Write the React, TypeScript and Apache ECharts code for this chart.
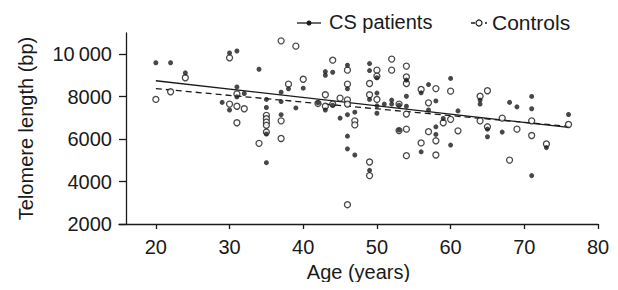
import React, { useEffect, useRef } from "react";
import * as echarts from "echarts";

const xTicks = [20, 30, 40, 50, 60, 70, 80];
const yTicks = [2000, 4000, 6000, 8000, 10000];

const csPatients: [number, number][] = [
  [20, 9600], [22, 9600], [24, 9120], [29, 7730], [30, 10060], [30, 7370], [31, 10150], [31, 8460],
  [31, 7990], [32, 8150], [34, 9290], [35, 7870], [35, 7490], [35, 6240], [35, 4890], [37, 8210],
  [37, 7770], [37, 7150], [38, 8370], [39, 7470], [40, 8400], [42, 7710], [43, 9180], [43, 9010],
  [43, 7370], [44, 9150], [44, 7600], [45, 6990], [46, 9480], [46, 8370], [46, 7150], [46, 6140],
  [46, 5540], [47, 7270], [47, 5250], [49, 9560], [49, 9230], [49, 7870], [49, 4530], [50, 8890],
  [50, 8170], [50, 7570], [50, 7220], [51, 7650], [52, 7840], [52, 7650], [53, 7600], [53, 6420],
  [54, 8780], [54, 8020], [54, 7550], [56, 8180], [56, 5400], [57, 8570], [57, 7370], [58, 7800],
  [58, 6580], [58, 6220], [59, 6970], [60, 8860], [60, 5720], [61, 7330], [64, 7840], [64, 7650],
  [65, 6470], [65, 6110], [67, 6330], [68, 7730], [69, 7520], [71, 8010], [71, 7430], [71, 4280],
  [73, 5600], [76, 7160],
];

const controls: [number, number][] = [
  [20, 7870], [22, 8230], [24, 8890], [30, 9830], [30, 7650], [31, 8130], [31, 7550], [31, 6770],
  [32, 7430], [34, 5800], [35, 7120], [35, 6960], [35, 6800], [35, 6650], [35, 6330], [37, 10630],
  [37, 6860], [37, 6030], [38, 8590], [39, 10380], [40, 8820], [42, 7680], [43, 8090], [43, 7550],
  [44, 9720], [44, 7650], [45, 7930], [46, 9250], [46, 8590], [46, 7850], [46, 7650], [46, 2910],
  [47, 6860], [47, 6670], [49, 8620], [49, 8090], [49, 4920], [49, 4280], [50, 9250], [50, 8970],
  [50, 7870], [52, 9770], [52, 9250], [53, 7650], [53, 6400], [54, 9440], [54, 8930], [54, 8620],
  [54, 7180], [54, 6470], [54, 5220], [56, 8340], [56, 5820], [57, 7710], [57, 6350], [58, 8380],
  [58, 5920], [58, 5250], [59, 6770], [60, 8260], [60, 6930], [61, 6390], [64, 8020], [64, 6860],
  [65, 8280], [65, 6580], [67, 6990], [68, 5010], [69, 6470], [71, 6860], [71, 6170], [73, 5770],
  [76, 6690],
];

const csFit: [number, number][] = [[20, 8750], [76, 6550]];
const controlsFit: [number, number][] = [[20, 8380], [76, 6600]];

const FONT = "'Liberation Sans', Arial, Helvetica, sans-serif";
const INK = "#1a1a1a";

export default function App() {
  const ref = useRef<HTMLDivElement>(null);
  useEffect(() => {
    if (!ref.current) return;
    const chart = echarts.init(ref.current, undefined, { renderer: "svg" });
    chart.setOption({
      animation: false,
      backgroundColor: "#ffffff",
      textStyle: { fontFamily: FONT },
      grid: { left: 119, right: 20, top: 33, bottom: 66, containLabel: false },
      xAxis: {
        type: "value",
        min: 15,
        max: 80,
        name: "Age (years)",
        nameLocation: "middle",
        nameGap: 36,
        nameTextStyle: { fontSize: 20, color: INK, fontFamily: FONT },
        axisLine: { show: true, onZero: false, lineStyle: { color: INK, width: 1.3 } },
        axisTick: { show: true, length: 5, customValues: xTicks, lineStyle: { color: INK, width: 1.3 } },
        axisLabel: { customValues: xTicks, fontSize: 20, color: INK, margin: 13, fontFamily: FONT },
        splitLine: { show: false },
      },
      yAxis: {
        type: "value",
        min: 2000,
        max: 11000,
        offset: -7,
        name: "Telomere length (bp)",
        nameLocation: "middle",
        nameRotate: 90,
        nameGap: 90,
        nameTextStyle: { fontSize: 20, color: INK, fontFamily: FONT },
        axisLine: { show: true, onZero: false, lineStyle: { color: INK, width: 1.3 } },
        axisTick: { show: true, length: 7, customValues: yTicks, lineStyle: { color: INK, width: 1.3 } },
        axisLabel: {
          customValues: yTicks,
          fontSize: 20,
          color: INK,
          margin: 14,
          fontFamily: FONT,
          formatter: (v: number) => (v >= 10000 ? "10\u2009000" : String(v)),
        },
        splitLine: { show: false },
      },
      series: [
        {
          name: "Controls fit",
          type: "line",
          data: controlsFit,
          symbol: "none",
          lineStyle: { color: INK, width: 1.3, type: [6, 4] },
          z: 1,
        },
        {
          name: "CS patients fit",
          type: "line",
          data: csFit,
          symbol: "none",
          lineStyle: { color: INK, width: 1.3 },
          z: 1,
        },
        {
          name: "Controls",
          type: "scatter",
          data: controls,
          symbol: "circle",
          symbolSize: 6,
          itemStyle: { color: "#ffffff", borderColor: INK, borderWidth: 1.3 },
          z: 2,
        },
        {
          name: "CS patients",
          type: "scatter",
          data: csPatients,
          symbol: "circle",
          symbolSize: 5,
          itemStyle: { color: INK },
          z: 3,
        },
      ],
      graphic: [
        { type: "line", shape: { x1: 297, y1: 23, x2: 321, y2: 23 }, style: { stroke: INK, lineWidth: 1.3 } },
        { type: "circle", shape: { cx: 309, cy: 23, r: 2.5 }, style: { fill: INK } },
        {
          type: "text",
          x: 329,
          y: 22,
          style: { text: "CS patients", font: `20px ${FONT}`, fill: INK, textVerticalAlign: "middle", verticalAlign: "middle" },
        },
        { type: "line", shape: { x1: 471, y1: 23, x2: 487, y2: 23 }, style: { stroke: INK, lineWidth: 1.3, lineDash: [4, 3] } },
        { type: "circle", shape: { cx: 479, cy: 23, r: 3 }, style: { fill: "#ffffff", stroke: INK, lineWidth: 1.2 } },
        {
          type: "text",
          x: 492,
          y: 22,
          style: { text: "Controls", font: `21px ${FONT}`, fill: INK, textVerticalAlign: "middle", verticalAlign: "middle" },
        },
      ],
    });
    return () => chart.dispose();
  }, []);
  return <div ref={ref} style={{ width: 618, height: 290, margin: -8 }} />;
}
